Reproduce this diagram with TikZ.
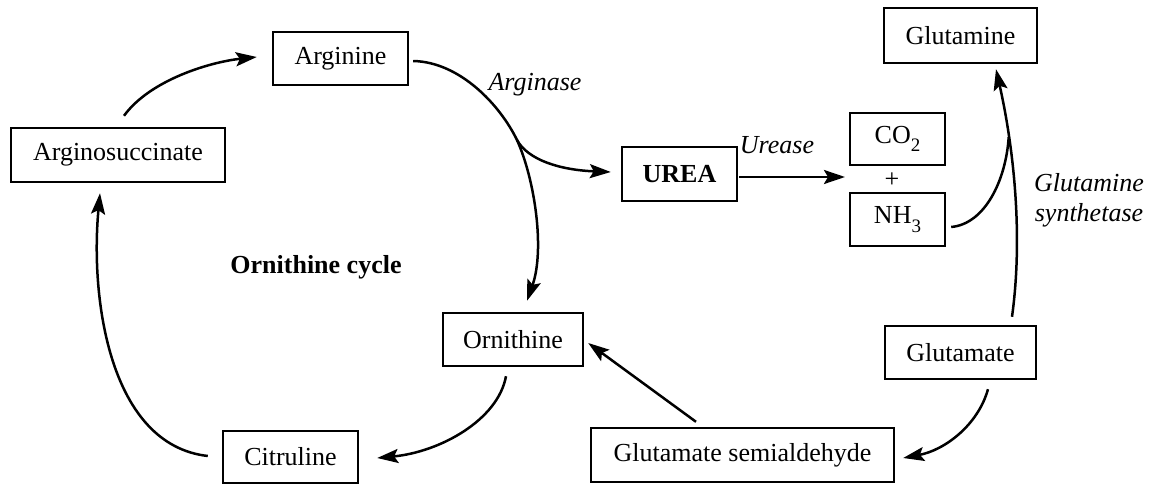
\documentclass[tikz,border=0pt]{standalone}
\usepackage{fontspec}
\setmainfont{Liberation Serif}
\usetikzlibrary{arrows.meta,calc}
\newcommand{\lowsub}[1]{\raisebox{-0.32em}{\fontsize{19}{20}\selectfont #1}}
\begin{document}
\begin{tikzpicture}[x=1pt,y=-1pt,
  txt/.style={font=\fontsize{26}{30}\selectfont, inner sep=0pt},
  box/.style={txt, draw, line width=2.4pt, rectangle},
  lab/.style={font=\fontsize{26}{30}\selectfont\itshape, inner sep=0pt},
  conn/.style={line width=2.5pt, -{Stealth[length=21pt,width=14pt,inset=4pt]}},
  plain/.style={line width=2.5pt}]
\useasboundingbox (0,0) rectangle (1157,484);
% boxes
\node[box, minimum width=135pt, minimum height=53pt] (arg) at (340.5,58.5) {Arginine};
\node[box, minimum width=214pt, minimum height=54pt] (asuc) at (118,155) {Arginosuccinate};
\node[box, minimum width=115pt, minimum height=54pt, font=\fontsize{26}{30}\selectfont\bfseries] (urea) at (679.5,174) {UREA};
\node[box, minimum width=95pt, minimum height=52pt] (co2) at (897.5,139) {CO\lowsub{2}};
\node[txt] (plus) at (892,180) {+};
\node[box, minimum width=95pt, minimum height=53pt] (nh3) at (897.5,219.5) {NH\lowsub{3}};
\node[box, minimum width=153pt, minimum height=55pt] (gln) at (960.5,35.5) {Glutamine};
\node[box, minimum width=140pt, minimum height=53pt] (orn) at (513,339.5) {Ornithine};
\node[box, minimum width=151pt, minimum height=53pt] (glu) at (960.5,352.5) {Glutamate};
\node[box, minimum width=135pt, minimum height=52pt] (cit) at (290.5,457) {Citruline};
\node[box, minimum width=303pt, minimum height=54pt] (gsa) at (742.5,455) {Glutamate semialdehyde};
% labels
\node[lab] (arginase) at (535,85) {Arginase};
\node[lab] (urease) at (777,145) {Urease};
\node[lab, align=center] (gs) at (1089,200) {Glutamine\\synthetase};
\node[txt, font=\fontsize{26}{30}\selectfont\bfseries] (cycle) at (316,267) {Ornithine cycle};
% connector end points
\coordinate (a1s) at ($(asuc.north)+(6,-11)$);
\coordinate (a1e) at ($(arg.west)+(-15,-1.5)$);
\coordinate (a2s) at ($(arg.east)+(4,2.5)$);
\coordinate (br) at (517,140);
\coordinate (a2e) at ($(orn.north)+(14,-11)$);
\coordinate (a3e) at ($(urea.west)+(-10,-2)$);
\coordinate (a4s) at ($(orn.south)+(-7,9)$);
\coordinate (a4e) at ($(cit.east)+(18,1)$);
\coordinate (a5s) at ($(cit.west)+(-14,-1)$);
\coordinate (a5e) at ($(asuc.south)+(-18,10)$);
\coordinate (a6s) at ($(urea.east)+(1,3)$);
\coordinate (ureatip) at (845,177);
\coordinate (a7s) at ($(glu.north)+(51.5,-8)$);
\coordinate (a7e) at ($(gln.south)+(35.5,5)$);
\coordinate (a8s) at ($(nh3.east)+(5,7.5)$);
\coordinate (merge) at (1008.7,137);
\coordinate (a9s) at ($(glu.south)+(27.5,9)$);
\coordinate (a9e) at ($(gsa.east)+(8,3)$);
\coordinate (a10s) at ($(gsa.north)+(-46.5,-5)$);
\coordinate (a10e) at ($(orn.east)+(4,3.5)$);
% connectors
\draw[conn] (a1s) .. controls (150,80) and (210,62) .. (a1e);
\draw[conn] (a2s) .. controls (460,62) and (500,105) .. (br)
   .. controls (535,180) and (545,250) .. (a2e);
\draw[conn] (br) .. controls (528,160) and (560,170) .. (a3e);
\draw[conn] (a4s) .. controls (498,420) and (440,452) .. (a4e);
\draw[conn] (a5s) .. controls (110,445) and (90,300) .. (a5e);
\draw[conn] (a6s) -- (ureatip);
\draw[conn] (a7s) .. controls (1024,230) and (1012,140) .. (a7e);
\draw[plain] (a8s) .. controls (985,224) and (1006,180) .. (merge);
\draw[conn] (a9s) .. controls (978,425) and (945,450) .. (a9e);
\draw[conn] (a10s) -- (a10e);
\end{tikzpicture}
\end{document}
